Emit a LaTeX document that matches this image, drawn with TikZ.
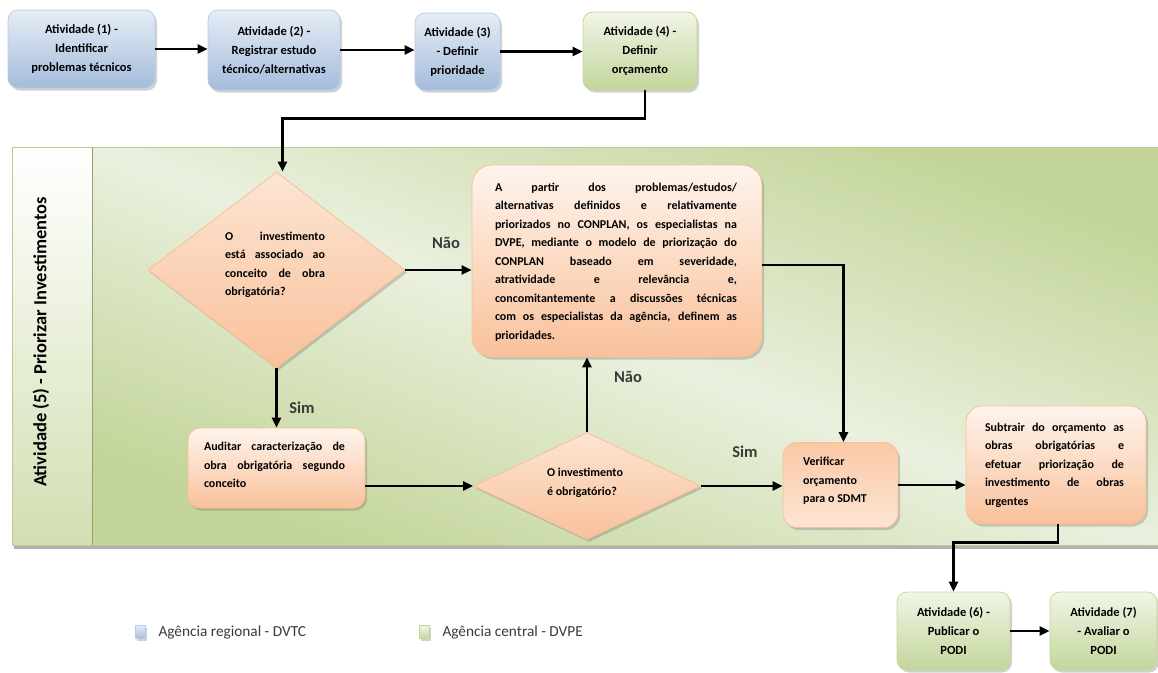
\documentclass[tikz,border=0pt]{standalone}
\usepackage{fontspec}
\setmainfont{Carlito}
\usetikzlibrary{arrows.meta,shapes.geometric,shadows,calc}

\definecolor{blueTop}{HTML}{E6EDF6}
\definecolor{blueBot}{HTML}{A3BCDB}
\definecolor{blueEdge}{HTML}{B9CDE5}
\definecolor{greenTop}{HTML}{F1F5E7}
\definecolor{greenBot}{HTML}{C3D69B}
\definecolor{greenEdge}{HTML}{C3D69B}
\definecolor{peachTop}{HTML}{FEF4EC}
\definecolor{peachBot}{HTML}{F9C19B}
\definecolor{peachEdge}{HTML}{F8BF95}
\definecolor{laneDark}{HTML}{C2D498}
\definecolor{laneLight}{HTML}{EAF0DE}
\definecolor{laneEdge}{HTML}{B8CC92}
\definecolor{labelGray}{HTML}{3A3A3A}

\newcommand{\boxfont}{\fontsize{12.5}{19}\selectfont\bfseries}
\newcommand{\parfont}{\fontsize{12}{18.5}\selectfont\bfseries\hyphenpenalty10000\exhyphenpenalty10000}

\tikzset{
  boxshadow/.style={drop shadow={shadow xshift=2pt, shadow yshift=-2.5pt, opacity=0.3, fill=black!60}},
  bluebox/.style={rectangle, rounded corners=10pt, draw=blueEdge, line width=0.8pt,
    top color=blueTop, bottom color=blueBot, boxshadow, align=center, inner sep=2pt,
    font=\boxfont},
  greenbox/.style={bluebox, draw=greenEdge, top color=greenTop, bottom color=greenBot},
  peachbox/.style={rectangle, rounded corners=14pt, draw=peachEdge, line width=0.8pt,
    top color=peachTop, bottom color=peachBot, boxshadow, inner sep=0pt},
  decision/.style={diamond, aspect=1, draw=peachEdge, line width=0.8pt,
    top color=peachTop!70!peachBot, bottom color=peachBot, boxshadow, inner sep=0pt},
  boxtext/.style={inner sep=0pt, font=\parfont},
  flow/.style={line width=2.2pt, -{Triangle[length=10pt,width=9pt]}},
  answer/.style={font=\fontsize{16.5}{18}\selectfont\bfseries, text=labelGray},
  legendtext/.style={font=\fontsize{15.3}{18}\selectfont, text=labelGray, anchor=west},
}

\begin{document}
\begin{tikzpicture}[x=1pt,y=-1pt]
\useasboundingbox (0,0) rectangle (1158,672);

% swimlane for activity 5
\fill[black!30] (14,545) rectangle (1158,549);
\shade[top color=laneDark, bottom color=laneDark, middle color=laneLight, shading angle=-20.5]
  (92,147) rectangle (1158,545);
\shade[top color=white, bottom color=laneDark!75] (12,147) rectangle (92,545);
\draw[laneEdge, line width=1pt] (1158,147) -- (12,147) -- (12,545) -- (1158,545);
\draw[laneEdge!80!black, line width=1pt] (92,147) -- (92,545);
\node[rotate=90, font=\fontsize{18.5}{20}\selectfont\bfseries] (lanetitle) at (41,342)
  {Atividade (5) - Priorizar Investimentos};

% top row of activities
\node[bluebox, minimum width=147pt, minimum height=78pt] (a1) at (81.5,49)
  {Atividade (1) -\\Identificar\\problemas técnicos};
\node[bluebox, minimum width=132pt, minimum height=80pt] (a2) at (274,50)
  {Atividade (2) -\\Registrar estudo\\técnico/alternativas};
\node[bluebox, minimum width=85pt, minimum height=77pt] (a3) at (457.5,51.5)
  {Atividade (3)\\- Definir\\prioridade};
\node[greenbox, minimum width=114pt, minimum height=78pt] (a4) at (640,51)
  {Atividade (4) -\\Definir\\orçamento};

% decisions and tasks inside the lane
\node[decision, minimum width=257pt, minimum height=196pt] (d1) at (276.5,270) {};
\node[boxtext, text width=100pt, align=justify] (d1text) at (275,265)
  {O investimento\linebreak está associado ao\linebreak conceito de obra\linebreak obrigatória?};

\node[peachbox, rounded corners=20pt, minimum width=290pt, minimum height=192pt] (big) at (617,261) {};
\node[boxtext, text width=242pt, align=justify] (bigtext) at (616,262)
  {A partir dos problemas/estudos/\linebreak alternativas definidos e relativamente\linebreak
   priorizados no CONPLAN, os especialistas na\linebreak DVPE, mediante o modelo de priorização do\linebreak
   CONPLAN baseado em severidade,\linebreak atratividade e relevância e,\linebreak
   concomitantemente a discussões técnicas\linebreak com os especialistas da agência, definem as\linebreak prioridades.};

\node[peachbox, rounded corners=12pt, minimum width=177pt, minimum height=80pt] (aud) at (276.5,468) {};
\node[boxtext, text width=141pt, align=justify] (audtext) at (274.5,465)
  {Auditar caracterização de\linebreak obra obrigatória segundo\linebreak conceito};

\node[decision, minimum width=227pt, minimum height=107pt] (d2) at (587,486) {};
\node[boxtext, align=left] (d2text) at (585,483)
  {O investimento\\é obrigatório?};

\node[peachbox, rounded corners=14pt, minimum width=115pt, minimum height=85pt,
  top color=peachBot!85!peachTop, bottom color=peachTop!70!peachBot] (ver) at (840.5,485) {};
\node[boxtext, align=left] (vertext) at (835,481)
  {Verificar\\orçamento\\para o SDMT};

\node[peachbox, rounded corners=16pt, minimum width=180pt, minimum height=118pt] (sub) at (1056,465) {};
\node[boxtext, text width=139pt, align=justify] (subtext) at (1054.5,465)
  {Subtrair do orçamento as\linebreak obras obrigatórias e\linebreak efetuar priorização de\linebreak investimento de obras\linebreak urgentes};

% final activities
\node[greenbox, minimum width=113pt, minimum height=78pt] (a6) at (953.5,631)
  {Atividade (6) -\\Publicar o\\PODI};
\node[greenbox, minimum width=107pt, minimum height=78pt] (a7) at (1103.5,631)
  {Atividade (7)\\- Avaliar o\\PODI};

% connectors
\draw[flow] (a1.east) -- (a1.east -| a2.west);
\draw[flow] (a2.east) -- (a2.east -| a3.west);
\draw[flow] (a3.east) -- (a3.east -| a4.west);
\draw[flow] ($(a4.south)+(5,0)$) -- ++(0,28) -| ($(d1.north)+(6,0)$);
\draw[flow] (d1.east) -- (d1.east -| big.west);
\draw[flow] (d1.south) -- (aud.north);
\draw[flow] (d2.west -| aud.east) -- (d2.west);
\draw[flow] (d2.north) -- (d2.north |- big.south);
\draw[flow] (d2.east) -- (d2.east -| ver.west);
\draw[flow] ($(big.east)+(0,4)$) -| ($(ver.north)+(3,0)$);
\draw[flow] (ver.east) -- (ver.east -| sub.west);
\draw[flow] ($(sub.south)+(2,0)$) -- ++(0,18) -| (a6.north);
\draw[flow] (a6.east) -- (a6.east -| a7.west);

% answers on the branches
\node[answer] (nao1) at (446,243) {Não};
\node[answer] (sim1) at (302,408) {Sim};
\node[answer] (nao2) at (628,377) {Não};
\node[answer] (sim2) at (745,452) {Sim};

% legend
\node[rectangle, minimum width=10pt, minimum height=13pt, inner sep=0pt, draw=blueEdge,
  top color=blueTop, bottom color=blueBot, boxshadow] (legblue) at (140,632) {};
\node[legendtext] (legbluetext) at (155,632) {Agência regional - DVTC};
\node[rectangle, minimum width=10pt, minimum height=13pt, inner sep=0pt, draw=greenEdge,
  top color=greenTop, bottom color=greenBot, boxshadow] (leggreen) at (424,632) {};
\node[legendtext] (leggreentext) at (439,632) {Agência central - DVPE};
\end{tikzpicture}
\end{document}
